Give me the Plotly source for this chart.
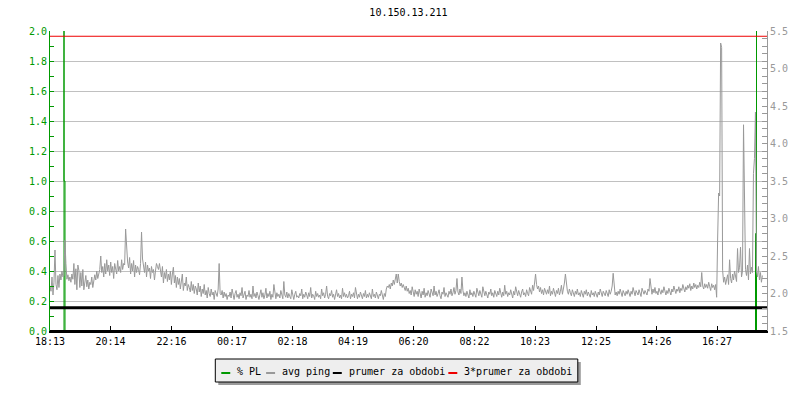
import datetime
import plotly.graph_objects as go

# ---------------- data ----------------
title_text = "10.150.13.211"
start_time = datetime.datetime(2024, 1, 1, 18, 13)
range_minutes = 1434
sample_step_min = 1.99

tick_labels = ["18:13", "20:14", "22:16", "00:17", "02:18", "04:19",
               "06:20", "08:22", "10:23", "12:25", "14:26", "16:27"]

# avg ping (right axis), in hundredths of ms, one sample per step
ping_centi_evening = [
    210, 203, 222, 198, 215, 258, 212, 205, 224, 208,
    226, 218, 230, 222, 224, 271, 240, 219, 225, 217,
    222, 215, 226, 219, 240, 212, 233, 205, 238, 231,
    208, 228, 210, 232, 205, 214, 224, 209, 218, 206,
    215, 212, 222, 208, 219, 225, 218, 230, 220, 226,
    232, 250, 228, 236, 222, 240, 226, 245, 230, 238,
    224, 242, 228, 236, 220, 240, 232, 226, 244, 230,
    236, 228, 245, 232, 240, 238, 286, 262, 242, 234,
    248, 226, 240, 230, 244, 222, 238, 228, 236, 232,
    225, 240, 282, 246, 236, 228, 242, 222, 238, 230,
    234, 220, 236, 228, 232, 218, 230, 240, 236, 232,
    240, 226, 222, 236, 214, 228, 220, 232, 216, 226,
    218, 230, 212, 226, 235, 214, 224, 208, 222, 212,
    220, 206, 216, 226, 204, 214, 210, 222, 204, 212,
    208, 202, 216, 204, 212, 200, 210, 206, 198, 214,
    202, 210, 196, 206, 200, 212, 198, 204, 194, 208,
    200, 196, 206, 198, 202, 192, 204, 199, 196, 206,
    240, 200, 198, 204, 194, 202, 196, 200, 192, 198,
]
ping_centi_night = [
    196, 202, 194, 206, 198, 192, 200, 204, 195, 199,
    193, 201, 197, 208, 194, 199, 203, 192, 198, 196,
    204, 195, 199, 193, 210, 196, 200, 194, 202, 197,
    192, 199, 205, 195, 201, 193, 198, 207, 194, 200,
    196, 203, 192, 199, 195, 212, 197, 193, 201, 196,
    199, 194, 204, 197, 193, 216, 198, 195, 202, 194,
    200, 196, 193, 205, 198, 192, 199, 203, 195, 197,
    194, 200, 197, 206, 193, 199, 195, 202, 198, 193,
    201, 196, 208, 194, 199, 197, 192, 203, 196, 200,
    195, 198, 193, 206, 197, 201, 194, 199, 210, 196,
    193, 200, 197, 204, 195, 199, 192, 198, 205, 196,
    200, 194, 198, 193, 207, 196, 201, 195, 199, 194,
    197, 203, 193, 199, 196, 201, 194, 208, 197, 193,
    199, 195, 202, 197, 193, 200, 196, 204, 194, 199,
    195, 201, 197, 193, 206, 196, 199, 194, 202, 196,
    193, 199, 197, 204, 195, 192, 200, 196, 206, 210,
]
ping_centi_morning = [
    208, 212, 206, 214, 210, 218, 212, 220, 226, 214,
    226, 216, 210, 214, 208, 212, 206, 204, 210, 203,
    207, 200, 204, 198, 209, 202, 196, 205, 199, 203,
    196, 206, 200, 194, 203, 198, 207, 195, 201, 197,
    204, 199, 195, 206, 200, 197, 210, 198, 203, 196,
    200, 205, 197, 193, 202, 199, 208, 196, 201, 198,
    195, 203, 199, 206, 197, 201, 208, 199, 204, 220,
    202, 198, 206, 200, 222, 204, 197, 201, 196, 203,
    199, 194, 205, 198, 201, 196, 203, 199, 195, 207,
    200, 197, 204, 199, 195, 209, 201, 197, 203, 198,
    194, 202, 199, 206, 197, 201, 195, 204, 199, 196,
    203, 198, 207, 200, 195, 202, 197, 211, 199, 203,
    196, 201, 198, 205, 200, 194, 203, 198, 209, 201,
    197, 204, 199, 195, 202, 206, 198, 201, 196, 205,
    200, 197, 208, 202, 199, 211, 204, 214, 226, 212,
    206, 210, 202, 208, 200, 205, 198, 207, 202, 199,
    205, 200, 210, 197, 203, 199, 207, 201, 196, 204,
    200, 207, 198, 203, 211, 199, 206, 214, 226, 208,
    203, 199, 206, 201, 197, 205, 200, 196, 203, 199,
    206, 198, 201, 196, 204, 200, 195, 203, 199, 205,
]
ping_centi_afternoon = [
    197, 202, 199, 195, 204, 198, 201, 196, 203, 199,
    195, 202, 198, 206, 200, 196, 203, 199, 197, 204,
    200, 196, 205, 199, 203, 210, 227, 204, 198, 202,
    197, 203, 199, 206, 201, 196, 204, 200, 197, 203,
    199, 205, 201, 196, 203, 199, 208, 200, 197, 204,
    201, 198, 205, 200, 196, 207, 202, 199, 204, 201,
    198, 206, 203, 220, 204, 199, 206, 201, 208, 200,
    203, 198, 207, 202, 199, 205, 201, 209, 203, 198,
    204, 200, 207, 203, 198, 206, 202, 210, 204, 200,
    206, 203, 209, 201, 207, 204, 212, 206, 202, 209,
    205, 211, 207, 213, 204, 210, 206, 214, 208, 212,
    206, 211, 208, 215, 209, 228, 210, 206, 213, 208,
    212, 207, 215, 209, 204, 213, 208, 211, 205, 212,
    195, 274, 334, 330, 534, 528, 231, 215, 222, 212,
    218, 225, 212, 245, 220, 214, 226, 218, 230, 222,
    216, 260, 228, 235, 262, 222, 230, 425, 320, 232,
    224, 238, 218, 260, 226, 235, 228, 360, 380, 442,
    230, 222, 236, 218, 228, 215, 224,
]
ping_centi = ping_centi_evening + ping_centi_night + ping_centi_morning + ping_centi_afternoon

# % PL (left axis); minutes from start
pl_minutes = [0, 28, 28, 28, 30, 30, 1411, 1411, 1413, 1413, 1413, 1434]
pl_values = [0, 0, 8.0, 1.0, 1.0, 0, 0, 0.65, 0.65, 8.0, 0, 0]

mean_ping = 1.81          # prumer za obdobi
triple_mean_ping = 5.43   # 3*prumer za obdobi

legend_names = ["% PL", "avg ping", "prumer za obdobi", "3*prumer za obdobi"]
legend_colors = ["#009900", "#999999", "#000000", "#ee0000"]

# ---------------- build ----------------
def t(m):
    return start_time + datetime.timedelta(minutes=m)

avg_ping = [v / 100.0 for v in ping_centi]
ping_times = [t(sample_step_min * i) for i in range(len(avg_ping))]
pl_times = [t(m) for m in pl_minutes]
end_time = t(range_minutes)

tickvals = []
day = start_time.date()
prev = None
for lab in tick_labels:
    hh, mm = map(int, lab.split(":"))
    if prev is not None and (hh, mm) < prev:
        day = day + datetime.timedelta(days=1)
    prev = (hh, mm)
    tickvals.append(datetime.datetime(day.year, day.month, day.day, hh, mm))

FONT = "DejaVu Sans Mono"
fig = go.Figure()
fig.add_trace(go.Scatter(x=pl_times, y=pl_values, mode="lines", yaxis="y",
                         line=dict(color=legend_colors[0], width=1), showlegend=False))
fig.add_trace(go.Scatter(x=ping_times, y=avg_ping, mode="lines", yaxis="y2",
                         line=dict(color=legend_colors[1], width=1), showlegend=False))
fig.add_trace(go.Scatter(x=[start_time, end_time], y=[mean_ping, mean_ping], mode="lines",
                         yaxis="y2", line=dict(color=legend_colors[2], width=3), showlegend=False))
fig.add_trace(go.Scatter(x=[start_time, end_time], y=[triple_mean_ping, triple_mean_ping],
                         mode="lines", yaxis="y2", line=dict(color=legend_colors[3], width=1),
                         showlegend=False))

W, H = 800, 400
L, R, T, B = 50, 30, 31, 69
pw, ph = W - L - R, H - T - B

def px(x):
    return (x - L) / pw

def py(y):
    return (H - B - y) / ph

shapes = []
# black bottom axis line drawn above the traces
shapes.append(dict(type="line", xref="paper", yref="paper", x0=0, x1=1, y0=0, y1=0,
                   line=dict(color="#000000", width=2), layer="above"))
# legend shadow + box
shapes.append(dict(type="rect", xref="paper", yref="paper", x0=px(219), x1=px(583),
                   y0=py(385), y1=py(362), fillcolor="#9a9a9a", line=dict(width=0), layer="above"))
shapes.append(dict(type="rect", xref="paper", yref="paper", x0=px(216), x1=px(580),
                   y0=py(382), y1=py(359), fillcolor="#eeeeee",
                   line=dict(color="#000000", width=1), layer="above"))
item_line_x = [222, 267, 334, 450]
item_text_x = [236, 281, 348, 464]
annotations = []
for name, col, lx, tx in zip(legend_names, legend_colors, item_line_x, item_text_x):
    shapes.append(dict(type="line", xref="paper", yref="paper", x0=px(lx), x1=px(lx + 9),
                       y0=py(373), y1=py(373), line=dict(color=col, width=2), layer="above"))
    annotations.append(dict(text=name, xref="paper", yref="paper", x=px(tx), y=py(371.5),
                            xanchor="left", yanchor="middle", showarrow=False,
                            font=dict(family=FONT, size=10, color="#000000")))

fig.update_layout(
    width=W, height=H,
    margin=dict(l=L, r=R, t=T, b=B),
    paper_bgcolor="white", plot_bgcolor="white",
    title=dict(text=title_text, x=0.5, xref="paper", xanchor="center", y=1 - 12 / H,
               yanchor="middle", font=dict(family=FONT, size=10, color="#000000")),
    font=dict(family=FONT, size=10),
    showlegend=False,
    xaxis=dict(type="date", range=[start_time, end_time], tickvals=tickvals,
               ticktext=tick_labels, showgrid=False, zeroline=False,
               showline=True, linecolor="#000000", linewidth=2,
               ticks="inside", ticklen=5, tickcolor="#000000",
               tickfont=dict(family=FONT, size=10, color="#000000")),
    yaxis=dict(range=[0, 2], dtick=0.2, tickformat=".1f", showgrid=True,
               gridcolor="#c0c0c0", gridwidth=1, zeroline=False,
               showline=True, linecolor="#009900", linewidth=1,
               ticks="inside", ticklen=4, tickcolor="#009900",
               minor=dict(dtick=0.1, ticks="inside", ticklen=4, tickcolor="#009900", showgrid=False),
               tickfont=dict(family=FONT, size=10, color="#009900")),
    yaxis2=dict(range=[1.5, 5.5], dtick=0.5, tickformat=".1f", overlaying="y", side="right",
                showgrid=False, zeroline=False, showline=True, linecolor="#999999",
                ticks="inside", ticklen=5, tickcolor="#999999",
                minor=dict(dtick=0.1, ticks="inside", ticklen=5, tickcolor="#999999", showgrid=False),
                tickfont=dict(family=FONT, size=10, color="#999999")),
    shapes=shapes, annotations=annotations,
)

fig.write_html("out.html", config={"displayModeBar": False},
               post_script="document.body.style.margin='0px';")
